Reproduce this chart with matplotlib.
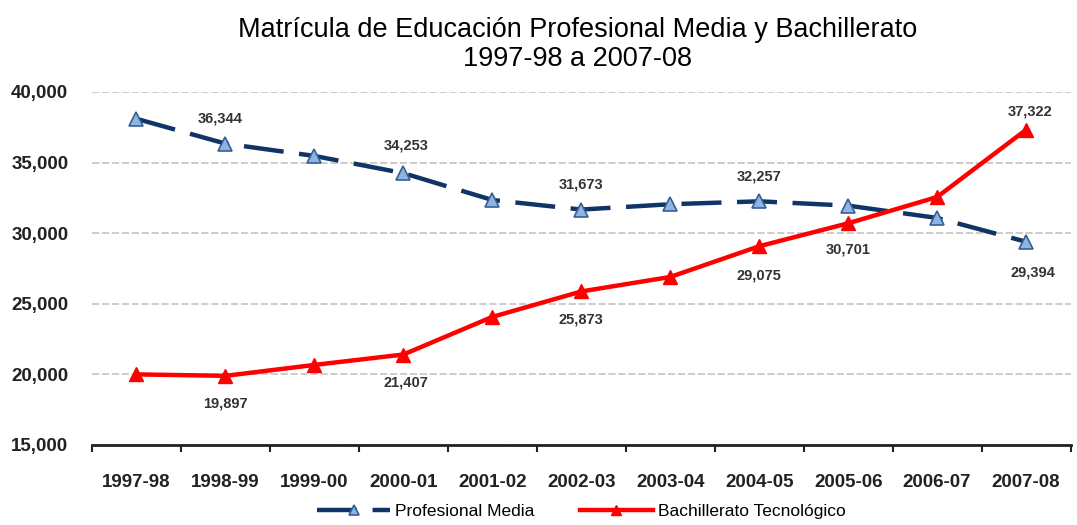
import numpy as np
from matplotlib import pyplot as plt
from matplotlib.ticker import FixedLocator, FuncFormatter

plt.rcParams['font.family'] = ['Liberation Sans', 'DejaVu Sans']

# Datos
ciclos = ['1997-98', '1998-99', '1999-00', '2000-01', '2001-02', '2002-03',
          '2003-04', '2004-05', '2005-06', '2006-07', '2007-08']
profesional_media = [38100, 36344, 35470, 34253, 32350, 31673,
                     32050, 32257, 31950, 31080, 29394]
bachillerato_tec = [20000, 19897, 20670, 21407, 24070, 25873,
                    26900, 29075, 30701, 32560, 37322]

# etiquetas visibles (indice, desplazamiento en puntos)
etiq_pm = {1: (-4, 18), 3: (2, 20), 5: (0, 18), 7: (0, 18), 10: (5, -22)}
etiq_bt = {1: (0, -20), 3: (2, -20), 5: (0, -20), 7: (0, -21), 8: (0, -19), 10: (3, 13)}

x = np.arange(len(ciclos))

fig = plt.figure(figsize=(10.77, 5.25), dpi=100)
ax = fig.add_axes([0.0854, 0.1524, 0.9086, 0.6724])

ax.plot(x, profesional_media, color='#0F3566', linestyle=(0, (9, 3.5)), linewidth=3.2,
        marker='^', markersize=9.5, markerfacecolor='#8DB4E2', markeredgecolor='#376092',
        markeredgewidth=1.2, label='Profesional Media', zorder=3)
ax.plot(x, bachillerato_tec, color='#FF0000', linestyle='-', linewidth=3.2,
        marker='^', markersize=9.5, markerfacecolor='#FF0000', markeredgecolor='#FF0000',
        label='Bachillerato Tecnológico', zorder=4)

for i, (dx, dy) in etiq_pm.items():
    ax.annotate(f'{profesional_media[i]:,}', (x[i], profesional_media[i]), xytext=(dx, dy),
                textcoords='offset points', ha='center', va='center',
                fontsize=10.5, fontweight='bold', color='#333333')
for i, (dx, dy) in etiq_bt.items():
    ax.annotate(f'{bachillerato_tec[i]:,}', (x[i], bachillerato_tec[i]), xytext=(dx, dy),
                textcoords='offset points', ha='center', va='center',
                fontsize=10.5, fontweight='bold', color='#333333')

ax.set_xlim(-0.5, len(ciclos) - 0.5)
ax.set_ylim(15000, 40000)
ax.set_yticks(np.arange(15000, 40001, 5000))
ax.yaxis.set_major_formatter(FuncFormatter(lambda v, p: f'{int(v):,}'))
ax.set_xticks(x)
ax.set_xticklabels(ciclos)
ax.xaxis.set_minor_locator(FixedLocator(np.arange(-0.5, len(ciclos), 1.0)))

ax.tick_params(axis='x', which='major', length=0, pad=21, labelsize=13.5, colors='#222222')
ax.tick_params(axis='x', which='minor', length=5, width=1.5, color='#222222')
ax.tick_params(axis='y', length=0, pad=17, labelsize=13.5, colors='#222222')
for lab in ax.get_xticklabels() + ax.get_yticklabels():
    lab.set_fontweight('bold')

for s in ['top', 'right', 'left']:
    ax.spines[s].set_visible(False)
ax.spines['bottom'].set_linewidth(2)
ax.spines['bottom'].set_color('#222222')

ax.yaxis.grid(True, color='#C8C8C8', linestyle=(0, (4, 1.5)), linewidth=1.3)
ax.set_axisbelow(True)

fig.text(0.536, 0.942, 'Matrícula de Educación Profesional Media y Bachillerato',
         ha='center', va='center', fontsize=19.5)
fig.text(0.536, 0.888, '1997-98 a 2007-08', ha='center', va='center', fontsize=19.5)

fig.legend(loc='center', bbox_to_anchor=(0.54, 0.025), ncol=2, frameon=False,
           fontsize=12.5, handlelength=4.2, columnspacing=2.6, handletextpad=0.3,
           markerscale=0.8)

plt.savefig('out.png', dpi=100)
